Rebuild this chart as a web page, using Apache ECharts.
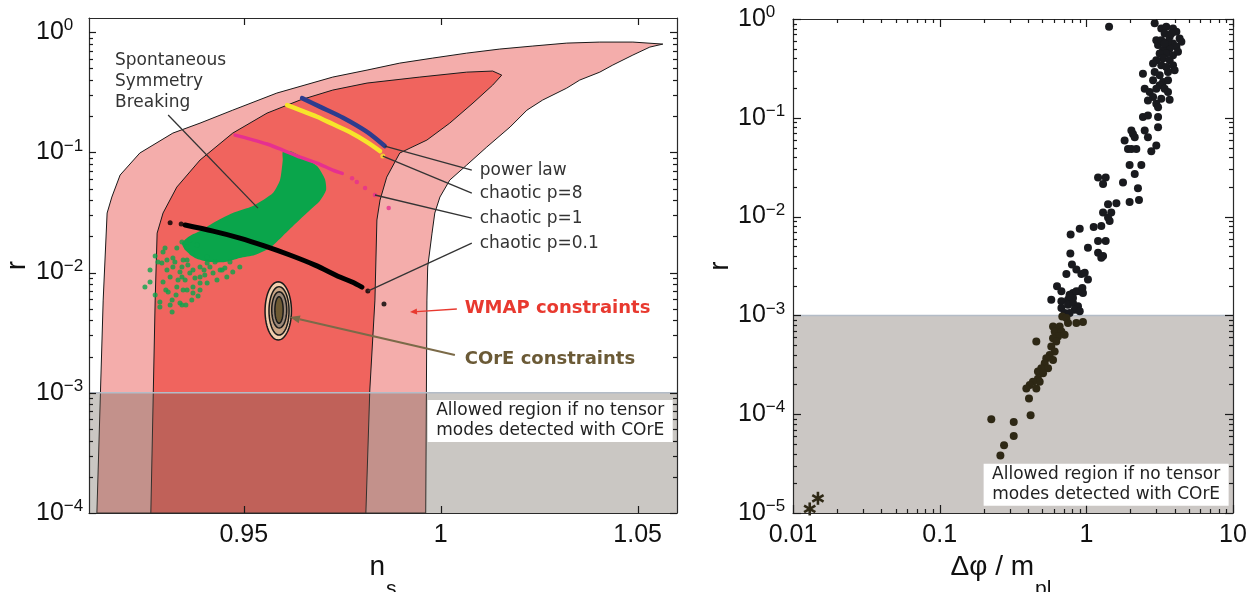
<!DOCTYPE html>
<html><head><meta charset="utf-8">
<script src="https://cdn.jsdelivr.net/npm/echarts@6/dist/echarts.min.js"></script>
<style>html,body{margin:0;padding:0;background:#fff}#c{width:1256px;height:592px}</style>
</head><body><div id="c"></div>
<script>
// ================= DATA =================
// Left panel: pairs are [n_s, log10(r)]
const leftXRange = [0.9107, 1.0600];
const leftRRange = [1e-4, 1.31];
const leftXTicks = [0.95, 1, 1.05];
const leftYTicks = [1e-4, 1e-3, 1e-2, 1e-1, 1];
const noTensorLimit = 1e-3;

// WMAP 2-sigma (outer) contour
const wmapOuter = [[0.9127,-4],[0.9143,-2.229],[0.9153,-1.505],[0.9165,-1.372],[0.9186,-1.189],[0.9236,-1.006],[0.9320,-0.840],[0.9389,-0.757],[0.9472,-0.649],[0.9584,-0.507],[0.9726,-0.374],[0.9813,-0.316],[0.9896,-0.258],[0.9980,-0.216],[1.0066,-0.175],[1.0150,-0.141],[1.0234,-0.116],[1.0320,-0.0915],[1.0404,-0.083],[1.0488,-0.083],[1.0564,-0.0998],[1.0531,-0.1247],[1.0488,-0.191],[1.0437,-0.274],[1.0404,-0.333],[1.0353,-0.399],[1.0320,-0.466],[1.0259,-0.565],[1.0219,-0.649],[1.0176,-0.790],[1.0117,-0.956],[1.0066,-1.106],[1.0023,-1.231],[0.9998,-1.372],[0.9985,-1.505],[0.9978,-1.672],[0.9967,-1.954],[0.9965,-2.229],[0.9962,-4]];
// WMAP 1-sigma (inner) contour
const wmapInner = [[0.9264,-4],[0.9275,-2.229],[0.9280,-1.672],[0.9295,-1.505],[0.9330,-1.289],[0.9389,-1.064],[0.9472,-0.840],[0.9559,-0.674],[0.9643,-0.565],[0.9726,-0.482],[0.9813,-0.424],[0.9947,-0.374],[1.0066,-0.333],[1.0132,-0.324],[1.0155,-0.358],[1.0132,-0.441],[1.0082,-0.590],[1.0023,-0.757],[0.9965,-0.898],[0.9922,-0.965],[0.9896,-1.006],[0.9863,-1.206],[0.9846,-1.397],[0.9838,-1.563],[0.9833,-2.229],[0.9820,-2.977],[0.9810,-4]];

// Model predictions
const powerLaw = [[0.9648,-0.549],[0.9693,-0.620],[0.9752,-0.712],[0.9813,-0.830],[0.9858,-0.948]];
const chaoticP8 = [[0.9610,-0.607],[0.9643,-0.649],[0.9686,-0.704],[0.9726,-0.765],[0.9769,-0.831],[0.9813,-0.915],[0.9846,-0.990]];
const chaoticP8Dots = [[0.9853,-1.031]];
const chaoticP1 = [[0.9478,-0.857],[0.9516,-0.890],[0.9559,-0.931],[0.9599,-0.981],[0.9643,-1.040],[0.9686,-1.089],[0.9726,-1.148],[0.9750,-1.175]];
const chaoticP1Dots = [[0.9775,-1.215],[0.9787,-1.247],[0.9808,-1.297],[0.9833,-1.355],[0.9868,-1.464]];
const chaoticP01 = [[0.9351,-1.605],[0.9422,-1.655],[0.9490,-1.713],[0.9554,-1.780],[0.9617,-1.854],[0.9681,-1.938],[0.9744,-2.037],[0.9775,-2.079],[0.9800,-2.121]];
const chaoticP01Dots = [[0.9313,-1.585],[0.9341,-1.597],[0.9815,-2.154],[0.9856,-2.262]];
// Spontaneous symmetry breaking: dense region outline + sparse points
const ssbDense = [[0.9599,-0.998],[0.9617,-0.990],[0.9643,-1.031],[0.9686,-1.114],[0.9706,-1.222],[0.9709,-1.314],[0.9693,-1.405],[0.9660,-1.505],[0.9625,-1.613],[0.9599,-1.696],[0.9566,-1.796],[0.9528,-1.854],[0.9490,-1.879],[0.9452,-1.913],[0.9414,-1.913],[0.9376,-1.879],[0.9351,-1.813],[0.9343,-1.755],[0.9363,-1.696],[0.9389,-1.655],[0.9422,-1.588],[0.9472,-1.505],[0.9523,-1.447],[0.9574,-1.339],[0.9592,-1.231],[0.9599,-1.064]];
const ssbSparse = [[0.9275,-1.863],[0.9295,-1.830],[0.9292,-1.921],[0.9330,-1.796],[0.9343,-1.746],[0.9320,-1.879],[0.9305,-1.979],[0.9313,-2.037],[0.9343,-1.954],[0.9356,-1.896],[0.9368,-1.838],[0.9381,-1.771],[0.9249,-2.121],[0.9343,-2.037],[0.9363,-2.004],[0.9389,-1.954],[0.9407,-1.921],[0.9371,-2.121],[0.9356,-2.146],[0.9389,-2.087],[0.9422,-2.004],[0.9440,-1.979],[0.9287,-2.287],[0.9313,-2.270],[0.9318,-2.328],[0.9343,-2.270],[0.9368,-2.229],[0.9371,-2.170],[0.9389,-2.146],[0.9308,-2.162],[0.9338,-1.996],[0.9351,-2.062],[0.9295,-2.079],[0.9330,-2.121],[0.9346,-2.146],[0.9287,-2.245],[0.9318,-2.229],[0.9338,-2.254],[0.9407,-2.087],[0.9432,-2.062],[0.9457,-2.037],[0.9472,-1.996],[0.9490,-1.954],[0.9445,-1.979],[0.9389,-2.037],[0.9414,-1.954],[0.9371,-1.979],[0.9346,-1.896],[0.9356,-1.788],[0.9407,-1.871],[0.9363,-1.730],[0.9305,-1.896],[0.9320,-1.954],[0.9300,-1.796],[0.9282,-1.913],[0.9262,-1.979],[0.9325,-1.913],[0.9333,-2.062],[0.9376,-2.046],[0.9401,-2.021],[0.9427,-1.913],[0.9452,-1.963],[0.9465,-1.913],[0.9358,-1.938],[0.9302,-2.146],[0.9328,-2.187],[0.9262,-2.079],[0.9275,-2.187],[0.9384,-2.195],[0.9353,-2.270],[0.9399,-1.979]];
// COrE forecast contours: [nsMin, nsMax, log10 rMin, log10 rMax]
const coreContours = [[0.9554,0.9621,-2.561,-2.077],[0.9564,0.9615,-2.520,-2.118],[0.9571,0.9609,-2.461,-2.160],[0.9579,0.9600,-2.422,-2.201]];
const coreColors = ['#f2cfae','#c9a585','#9c8878','#6e5a34'];

// Right panel: pairs are [log10(Δφ/m_pl), log10(r)]
const rightXRange = [0.01, 10];
const rightRRange = [1e-5, 1];
const rightXTicks = [0.01, 0.1, 1, 10];
const rightYTicks = [1e-5, 1e-4, 1e-3, 1e-2, 1e-1, 1];
const rightPoints = [[0.155,-0.078],[0.466,-0.044],[0.511,-0.095],[0.545,-0.078],[0.591,-0.095],[0.614,-0.129],[0.534,-0.146],[0.568,-0.180],[0.636,-0.197],[0.648,-0.231],[0.591,-0.247],[0.614,-0.281],[0.568,-0.298],[0.489,-0.264],[0.523,-0.315],[0.545,-0.349],[0.591,-0.366],[0.5,-0.349],[0.523,-0.4],[0.568,-0.417],[0.625,-0.332],[0.477,-0.417],[0.511,-0.468],[0.545,-0.485],[0.455,-0.451],[0.591,-0.468],[0.602,-0.519],[0.557,-0.536],[0.5,-0.569],[0.466,-0.536],[0.386,-0.553],[0.455,-0.620],[0.523,-0.637],[0.557,-0.620],[0.5,-0.671],[0.534,-0.705],[0.477,-0.705],[0.398,-0.705],[0.432,-0.739],[0.557,-0.739],[0.455,-0.790],[0.511,-0.807],[0.568,-0.817],[0.420,-0.824],[0.477,-0.858],[0.489,-0.892],[0.386,-0.993],[0.420,-0.976],[0.489,-0.993],[0.489,-1.095],[0.307,-1.129],[0.318,-1.163],[0.330,-1.197],[0.398,-1.129],[0.420,-1.197],[0.261,-1.231],[0.284,-1.315],[0.307,-1.315],[0.341,-1.315],[0.477,-1.281],[0.443,-1.339],[0.295,-1.478],[0.375,-1.478],[0.330,-1.569],[0.250,-1.654],[0.352,-1.712],[0.295,-1.851],[0.359,-1.831],[0.080,-1.603],[0.132,-1.603],[0.114,-1.671],[0.148,-1.875],[0.205,-1.864],[0.114,-1.959],[0.170,-1.959],[0.148,-2.010],[0.159,-2.044],[0.050,-2.105],[0.102,-2.095],[-0.045,-2.122],[-0.107,-2.180],[0.080,-2.247],[0.132,-2.247],[0.011,-2.315],[0.080,-2.366],[0.114,-2.4],[0.102,-2.417],[-0.109,-2.373],[-0.098,-2.485],[-0.136,-2.580],[-0.068,-2.536],[-0.034,-2.580],[-0.011,-2.569],[0.011,-2.637],[-0.200,-2.705],[-0.170,-2.756],[-0.114,-2.790],[-0.091,-2.773],[-0.068,-2.756],[-0.045,-2.756],[-0.027,-2.722],[-0.239,-2.841],[-0.125,-2.841],[-0.091,-2.824],[0.477,-0.214],[0.557,-0.231],[0.580,-0.146],[0.511,-0.214],[0.534,-0.247],[-0.114,-2.807],[-0.023,-2.773],[-0.170,-2.858],[-0.125,-2.892],[-0.091,-2.875],[-0.057,-2.908],[-0.080,-2.942],[-0.170,-2.925],[-0.148,-2.976],[-0.114,-2.976],[-0.045,-2.959],[-0.164,-3.010],[-0.136,-3.027],[-0.227,-3.112],[-0.182,-3.112],[-0.125,-3.078],[-0.068,-3.078],[-0.023,-3.068],[-0.216,-3.163],[-0.170,-3.163],[-0.193,-3.214],[-0.148,-3.197],[-0.227,-3.231],[-0.341,-3.264],[-0.205,-3.264],[-0.239,-3.315],[-0.216,-3.366],[-0.25,-3.400],[-0.273,-3.434],[-0.227,-3.451],[-0.284,-3.485],[-0.307,-3.536],[-0.261,-3.536],[-0.330,-3.569],[-0.295,-3.586],[-0.330,-3.641],[-0.318,-3.671],[-0.364,-3.671],[-0.386,-3.705],[-0.409,-3.739],[-0.341,-3.739],[-0.391,-3.841],[-0.380,-4.010],[-0.648,-4.051],[-0.495,-4.078],[-0.495,-4.220],[-0.561,-4.315],[-0.586,-4.417]];
const rightStars = [[-1.886,-4.959],[-1.830,-4.851]];

// Annotations (left panel, [n_s, log10 r])
const modelLabels = [
  {text: 'power law', at: [1.0099, -1.148]},
  {text: 'chaotic p=8', at: [1.0099, -1.347]},
  {text: 'chaotic p=1', at: [1.0099, -1.547]},
  {text: 'chaotic p=0.1', at: [1.0099, -1.755]}
];
const leaderLines = [
  [[0.9858,-0.948],[1.0079,-1.148]],
  [[0.9853,-1.031],[1.0079,-1.339]],
  [[0.9833,-1.355],[1.0079,-1.547]],
  [[0.9815,-2.154],[1.0079,-1.755]],
  [[0.9308,-0.690],[0.9536,-1.464]]
];
const ssbLabel = {text: 'Spontaneous\nSymmetry\nBreaking', at: [0.9173, -0.146]};
const wmapLabel = {text: 'WMAP constraints', at: [1.0061, -2.295], arrow: [[1.0041,-2.303],[0.9922,-2.328]]};
const coreLabel = {text: 'COrE constraints', at: [1.0061, -2.719], arrow: [[1.0036,-2.686],[0.9617,-2.370]]};
const allowedText = 'Allowed region if no tensor\nmodes detected with COrE';
const leftBoxCenter = [1.0278, -3.235];
const rightBoxCenter = [0.135, -4.713];

// ================= HELPERS =================
const P = Math.pow;
const L = p => [p[0], P(10, p[1])];
const R = p => [P(10, p[0]), P(10, p[1])];
function decadeMinor(lo, hi) {
  const out = [];
  for (let k = Math.floor(Math.log10(lo)); k <= Math.ceil(Math.log10(hi)); k++)
    for (let m = 2; m <= 9; m++) { const v = m * P(10, k); if (v > lo * 1.0001 && v < hi * 0.9999) out.push(v); }
  return out;
}
const FONT = 'Liberation Sans';
const supRich = {
  b: {fontFamily: FONT, fontSize: 25, lineHeight: 30, color: '#111'},
  s: {fontFamily: FONT, fontSize: 17, lineHeight: 17, verticalAlign: 'top', color: '#111'}
};
function powLabel(v) {
  const e = Math.log10(v); const r = Math.round(e);
  if (Math.abs(e - r) > 1e-6) return '';
  return '{b|10}{s|' + (r < 0 ? '\u2212' + (-r) : r) + '}';
}
const lineStyleAxis = {color: '#2a2a2a', width: 1.2};
function axis(extra) {
  return Object.assign({
    axisLine: {show: true, onZero: false, lineStyle: lineStyleAxis},
    axisTick: {show: false},
    splitLine: {show: false}, minorTick: {show: false}, z: 10
  }, extra);
}
// frame ticks (major + minor, on all four sides), placed through the axes' scales
function frameTicks(xi, yi, xr, yr, xMajor, yMajor, xMinor, yMinor, majLen) {
  return {
    type: 'custom', xAxisIndex: xi, yAxisIndex: yi, z: 30, silent: true,
    data: [[Math.sqrt(xr[0] * xr[1]), Math.sqrt(yr[0] * yr[1])]],
    renderItem: (params, api) => {
      const a = api.coord([xr[0], yr[0]]), b = api.coord([xr[1], yr[1]]);
      const ch = [];
      const add = (x1, y1, x2, y2) => ch.push({type: 'line', shape: {x1: x1, y1: y1, x2: x2, y2: y2}, style: {stroke: '#1a1a1a', lineWidth: 1.2}});
      const ys = (vals, len) => vals.forEach(v => { const y = Math.round(api.coord([xr[0], v])[1]) + 0.5; add(a[0], y, a[0] + len, y); add(b[0] - len, y, b[0], y); });
      const xs = (vals, len) => vals.forEach(v => { const x = Math.round(api.coord([v, yr[0]])[0]) + 0.5; add(x, a[1], x, a[1] - len); add(x, b[1], x, b[1] + len); });
      ys(yMajor, majLen); ys(yMinor, 4); xs(xMajor, majLen); xs(xMinor, 4);
      return {type: 'group', children: ch};
    }
  };
}
function bandSeries(xi, yi, xr, rMin, fill, z) {
  return {
    type: 'custom', xAxisIndex: xi, yAxisIndex: yi, z: z, silent: true,
    data: [[xr[0], rMin]],
    renderItem: (params, api) => {
      const a = api.coord([xr[0], rMin]), b = api.coord([xr[1], noTensorLimit]);
      return {type: 'group', children: [
        {type: 'rect', shape: {x: a[0], y: b[1], width: b[0] - a[0], height: a[1] - b[1]}, style: {fill: fill}},
        {type: 'line', shape: {x1: a[0], y1: b[1], x2: b[0], y2: b[1]}, style: {stroke: '#b3bcc7', lineWidth: 1.5}}
      ]};
    }
  };
}
function curve(data, color, width, z) {
  return {type: 'line', xAxisIndex: 0, yAxisIndex: 0, data: data.map(L), showSymbol: false, symbol: 'none',
    smooth: 0.3, lineStyle: {color: color, width: width, cap: 'round'}, z: z, silent: true};
}
function dots(data, color, size, z) {
  return {type: 'scatter', xAxisIndex: 0, yAxisIndex: 0, data: data.map(L), symbolSize: size,
    itemStyle: {color: color}, z: z, silent: true};
}

// ================= OPTION =================
const leftYMinor = decadeMinor(leftRRange[0], leftRRange[1]);
const rightYMinor = decadeMinor(rightRRange[0], rightRRange[1]);
const rightXMinor = decadeMinor(rightXRange[0], rightXRange[1]);

const option = {
  animation: false,
  backgroundColor: '#fff',
  grid: [
    {left: 89, top: 18, width: 588, height: 495, containLabel: false, outerBoundsMode: 'none'},
    {left: 793, top: 19, width: 440, height: 494, containLabel: false, outerBoundsMode: 'none'}
  ],
  xAxis: [
    axis({type: 'value', gridIndex: 0, position: 'bottom', min: leftXRange[0], max: leftXRange[1],
      axisLabel: {customValues: leftXTicks, formatter: v => String(Math.round(v * 100) / 100), fontFamily: FONT, fontSize: 25, color: '#111', margin: 10},
      name: '{n|n}{s|s}', nameLocation: 'middle', nameGap: 40,
      nameTextStyle: {rich: {n: {fontFamily: FONT, fontSize: 28, lineHeight: 30, verticalAlign: 'top', color: '#111'},
        s: {fontFamily: FONT, fontSize: 21, lineHeight: 21, padding: [26, 0, 0, 1], verticalAlign: 'top', color: '#111'}}}}),
    axis({type: 'value', gridIndex: 0, position: 'top', min: leftXRange[0], max: leftXRange[1], axisLabel: {show: false}}),
    axis({type: 'log', logBase: 10, gridIndex: 1, position: 'bottom', min: rightXRange[0], max: rightXRange[1],
      axisLabel: {formatter: v => { const e = Math.log10(v); return Math.abs(e - Math.round(e)) < 1e-6 ? String(+v.toPrecision(3)) : ''; },
        fontFamily: FONT, fontSize: 25, color: '#111', margin: 10},
      name: '{n|\u0394\u03c6 / m}{s|pl}', nameLocation: 'middle', nameGap: 40,
      nameTextStyle: {padding: [0, 24, 0, 0], rich: {n: {fontFamily: FONT, fontSize: 28, lineHeight: 30, verticalAlign: 'top', color: '#111'},
        s: {fontFamily: FONT, fontSize: 21, lineHeight: 21, padding: [26, 0, 0, 1], verticalAlign: 'top', color: '#111'}}}}),
    axis({type: 'log', logBase: 10, gridIndex: 1, position: 'top', min: rightXRange[0], max: rightXRange[1], axisLabel: {show: false}})
  ],
  yAxis: [
    axis({type: 'log', logBase: 10, gridIndex: 0, position: 'left', min: leftRRange[0], max: leftRRange[1],
      axisLabel: {formatter: powLabel, rich: supRich, align: 'left', margin: 53},
      name: 'r', nameLocation: 'middle', nameGap: 58, nameTextStyle: {fontFamily: FONT, fontSize: 27, color: '#111'}}),
    axis({type: 'log', logBase: 10, gridIndex: 0, position: 'right', min: leftRRange[0], max: leftRRange[1], axisLabel: {show: false}}),
    axis({type: 'log', logBase: 10, gridIndex: 1, position: 'left', min: rightRRange[0], max: rightRRange[1],
      axisLabel: {formatter: powLabel, rich: supRich, align: 'left', margin: 55},
      name: 'r', nameLocation: 'middle', nameGap: 27, nameTextStyle: {fontFamily: FONT, fontSize: 27, color: '#111'}}),
    axis({type: 'log', logBase: 10, gridIndex: 1, position: 'right', min: rightRRange[0], max: rightRRange[1], axisLabel: {show: false}})
  ],
  series: [
    // WMAP contours
    {type: 'custom', xAxisIndex: 0, yAxisIndex: 0, z: 1, silent: true, data: [[0.95, 0.01]],
      renderItem: (params, api) => ({type: 'group', children: [[wmapOuter, '#f4adab'], [wmapInner, '#f0645e']].map(d => ({
        type: 'polygon', shape: {points: d[0].map(p => api.coord(L(p)))},
        style: {fill: d[1], stroke: '#1a1a1a', lineWidth: 1}}))})},
    // no-tensor region (translucent overlay)
    bandSeries(0, 0, leftXRange, leftRRange[0], 'rgba(100,90,80,0.34)', 1),
    // SSB dense region
    {type: 'custom', xAxisIndex: 0, yAxisIndex: 0, z: 2, silent: true, data: [[0.96, 0.05]],
      renderItem: (params, api) => ({type: 'polygon', shape: {points: ssbDense.map(p => api.coord(L(p))), smooth: 0.2},
        style: {fill: '#0aa54b'}})},
    dots(ssbSparse, '#0aa54b', 5, 2),
    curve(chaoticP1, '#e6308f', 3.5, 3),
    dots(chaoticP1Dots, '#e6308f', 4.5, 3),
    curve(chaoticP8, '#f7e52a', 4.5, 3),
    dots(chaoticP8Dots, '#f7e52a', 5, 3),
    curve(powerLaw, '#2d3c8e', 4.5, 3),
    curve(chaoticP01, '#000000', 5, 3),
    dots(chaoticP01Dots, '#000000', 5, 3),
    // COrE forecast contours
    {type: 'custom', xAxisIndex: 0, yAxisIndex: 0, z: 4, silent: true, data: [[0.9587, 0.005]],
      renderItem: (params, api) => ({type: 'group', children: coreContours.map((c, i) => {
        const a = api.coord([c[0], P(10, c[2])]), b = api.coord([c[1], P(10, c[3])]);
        const cx = (a[0] + b[0]) / 2, cy = (a[1] + b[1]) / 2, rx = Math.abs(b[0] - a[0]) / 2, ry = Math.abs(a[1] - b[1]) / 2;
        const pts = [];
        for (let k = 0; k < 60; k++) { const t = k / 60 * 2 * Math.PI; pts.push([cx + rx * Math.cos(t), cy + ry * Math.sin(t)]); }
        return {type: 'polygon', shape: {points: pts}, style: {fill: coreColors[i], stroke: '#1a1a1a', lineWidth: 1.5}};
      })})},
    frameTicks(0, 0, leftXRange, leftRRange, leftXTicks, leftYTicks, [], leftYMinor, 7),
    // Right panel
    bandSeries(2, 2, rightXRange, rightRRange[0], '#cbc7c4', 1),
    {type: 'scatter', xAxisIndex: 2, yAxisIndex: 2, z: 3, silent: true, data: rightPoints.map(R), symbolSize: 8,
      itemStyle: {color: p => p.value[1] < noTensorLimit ? '#2e2815' : '#191a1e', opacity: 1}},
    // asterisk markers
    {type: 'custom', xAxisIndex: 2, yAxisIndex: 2, z: 3, silent: true, data: rightStars.map(R),
      renderItem: (params, api) => {
        const c = api.coord([api.value(0), api.value(1)]), h = 6.5, ch = [];
        [0, 60, 120].forEach(deg => { const t = deg * Math.PI / 180;
          ch.push({type: 'line', shape: {x1: c[0] - h * Math.sin(t), y1: c[1] - h * Math.cos(t), x2: c[0] + h * Math.sin(t), y2: c[1] + h * Math.cos(t)},
            style: {stroke: '#2e2815', lineWidth: 2.6}}); });
        return {type: 'group', children: ch};
      }},
    frameTicks(2, 2, rightXRange, rightRRange, rightXTicks, rightYTicks, rightXMinor, rightYMinor, 8)
  ]
};

const chart = echarts.init(document.getElementById('c'), null, {renderer: 'canvas'});
chart.setOption(option);

// ================= ANNOTATIONS =================
const pxL = p => chart.convertToPixel({xAxisIndex: 0, yAxisIndex: 0}, L(p));
const pxR = p => chart.convertToPixel({xAxisIndex: 2, yAxisIndex: 2}, R(p));
const TXT = 'DejaVu Sans';
const g = [];
modelLabels.forEach(l => { const p = pxL(l.at);
  g.push({type: 'text', x: p[0], y: p[1], z: 100, style: {text: l.text, fontFamily: TXT, fontSize: 17, fill: '#333', align: 'left', verticalAlign: 'middle'}}); });
leaderLines.forEach(s => { const a = pxL(s[0]), b = pxL(s[1]);
  g.push({type: 'line', z: 100, shape: {x1: a[0], y1: a[1], x2: b[0], y2: b[1]}, style: {stroke: '#333', lineWidth: 1.3}}); });
(function () { const p = pxL(ssbLabel.at);
  g.push({type: 'text', x: p[0], y: p[1], z: 100, style: {text: ssbLabel.text, fontFamily: TXT, fontSize: 17, lineHeight: 21, fill: '#333', align: 'left', verticalAlign: 'top'}}); })();
function arrow(seg, color, width, headLen, headW) {
  const a = pxL(seg[0]), b = pxL(seg[1]);
  const dx = b[0] - a[0], dy = b[1] - a[1], d = Math.hypot(dx, dy), ux = dx / d, uy = dy / d;
  const bx = b[0] - ux * headLen, by = b[1] - uy * headLen;
  g.push({type: 'line', z: 100, shape: {x1: a[0], y1: a[1], x2: bx, y2: by}, style: {stroke: color, lineWidth: width}});
  g.push({type: 'polygon', z: 100, shape: {points: [[b[0], b[1]], [bx - uy * headW, by + ux * headW], [bx + uy * headW, by - ux * headW]]}, style: {fill: color}});
}
[[wmapLabel, '#e8392f', '#e8392f', 1.3, 7, 3], [coreLabel, '#7b6a48', '#6b5a36', 2, 10, 4]].forEach(d => {
  const p = pxL(d[0].at);
  g.push({type: 'text', x: p[0], y: p[1], z: 100, style: {text: d[0].text, fontFamily: TXT, fontSize: 18, fontWeight: 'bold', fill: d[2], align: 'left', verticalAlign: 'middle'}});
  arrow(d[0].arrow, d[1], d[3], d[4], d[5]);
});
function allowedBox(c) {
  g.push({type: 'rect', z: 100, shape: {x: c[0] - 122.5, y: c[1] - 21, width: 245, height: 42}, style: {fill: '#fff'}});
  g.push({type: 'text', x: c[0], y: c[1], z: 101, style: {text: allowedText, fontFamily: TXT, fontSize: 17, lineHeight: 20, fill: '#222', align: 'center', verticalAlign: 'middle'}});
}
allowedBox(pxL(leftBoxCenter));
allowedBox(pxR(rightBoxCenter));
chart.setOption({graphic: g});
</script></body></html>
